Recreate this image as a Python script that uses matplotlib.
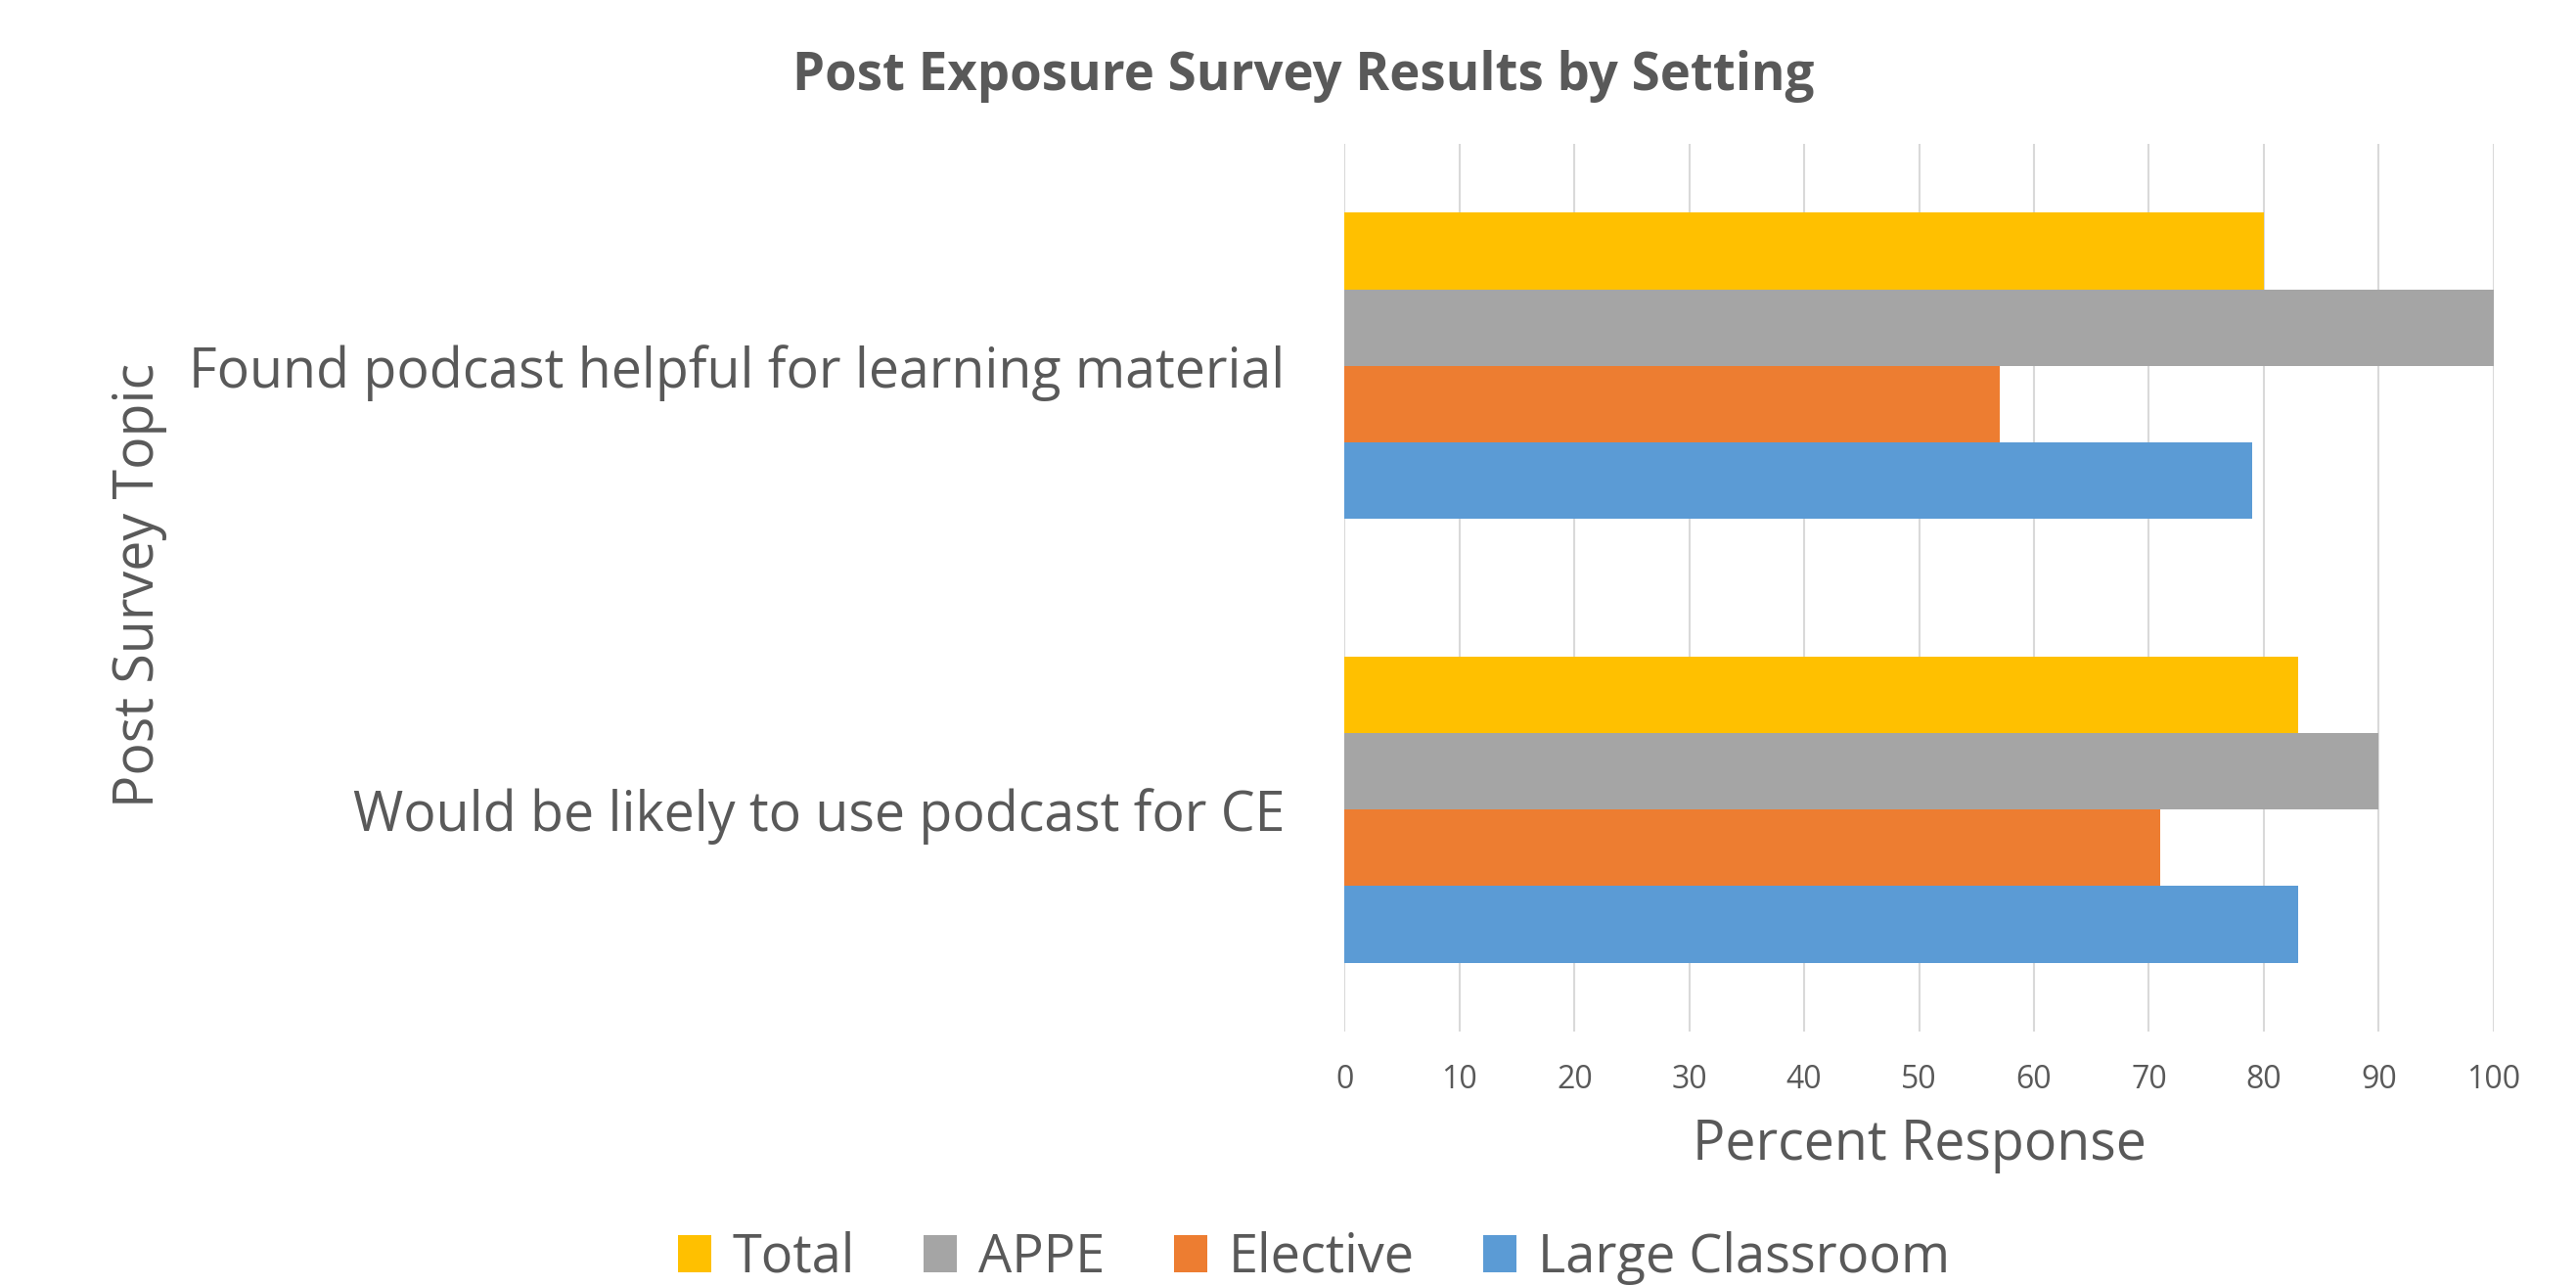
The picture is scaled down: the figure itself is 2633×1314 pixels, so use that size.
import matplotlib
matplotlib.use('Agg')
import matplotlib.pyplot as plt
import numpy as np
from matplotlib.patches import Patch

# data
topics = ['Found podcast helpful for learning material',
          'Would be likely to use podcast for CE']
series = ['Total', 'APPE', 'Elective', 'Large Classroom']
total = [80, 83]
appe = [100, 90]
elective = [57, 71]
large_classroom = [79, 83]
x_ticks = list(range(0, 101, 10))

colors = ['#FFC000', '#A5A5A5', '#ED7D31', '#5B9BD5']
txt_col = '#595959'

plt.rcParams['font.family'] = ['Open Sans', 'DejaVu Sans']

fig = plt.figure(figsize=(26.33, 13.14), dpi=100)
ax = fig.add_axes([0.522, 0.198, 0.446, 0.690])

values = [total, appe, elective, large_classroom]
n = len(series)
group_w = 0.69
bar_h = group_w / n
y_pos = np.arange(len(topics))
for i, (name, vals) in enumerate(zip(series, values)):
    offs = -group_w / 2 + bar_h * (i + 0.5)
    ax.barh(y_pos + offs, vals, height=bar_h, color=colors[i], label=name, zorder=2)

ax.set_xlim(0, 100)
ax.set_ylim(-0.5, len(topics) - 0.5)
ax.invert_yaxis()
ax.set_xticks(x_ticks)
ax.set_xticklabels([str(t) for t in x_ticks], fontsize=23, color=txt_col)
ax.set_yticks(y_pos)
ax.set_yticklabels(topics, fontsize=40, color=txt_col)
ax.tick_params(axis='both', length=0)
ax.tick_params(axis='x', pad=24)
ax.tick_params(axis='y', pad=44)
ax.grid(axis='x', color='#D9D9D9', linewidth=1.5, zorder=0)
for s in ax.spines.values():
    s.set_visible(False)

ax.set_xlabel('Percent Response', fontsize=40, color=txt_col, labelpad=16)
fig.text(0.054, 0.545, 'Post Survey Topic', rotation=90, fontsize=40,
         color=txt_col, ha='center', va='center')
fig.text(0.506, 0.941, 'Post Exposure Survey Results by Setting', fontsize=38,
         fontweight='bold', color=txt_col, ha='center', va='center')

handles = [Patch(facecolor=c, label=s) for c, s in zip(colors, series)]
fig.legend(handles=handles, loc='center', bbox_to_anchor=(0.51, 0.022), ncol=4,
           frameon=False, fontsize=39, labelcolor=txt_col, handlelength=0.63,
           handleheight=0.7, handletextpad=0.4, columnspacing=1.3)

fig.savefig('out.png', dpi=100, facecolor='white')
